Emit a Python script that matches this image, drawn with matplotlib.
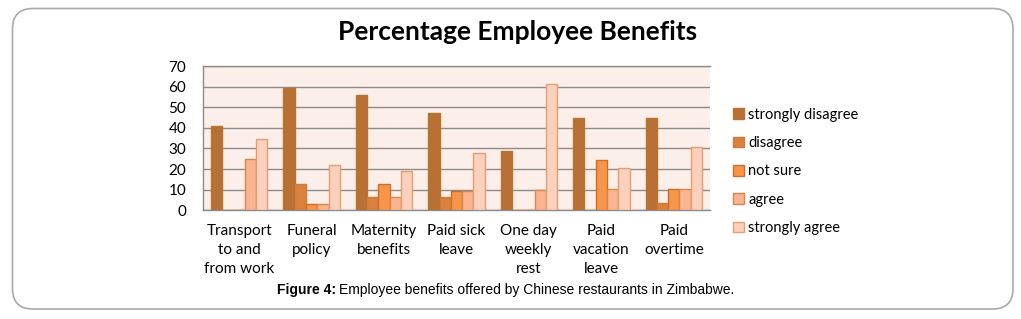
import matplotlib
matplotlib.use("Agg")
import matplotlib.pyplot as plt
import numpy as np
from matplotlib.patches import FancyBboxPatch, Patch

categories = ["Transport\nto and\nfrom work", "Funeral\npolicy", "Maternity\nbenefits",
              "Paid sick\nleave", "One day\nweekly\nrest", "Paid\nvacation\nleave", "Paid\novertime"]
series_names = ["strongly disagree", "disagree", "not sure", "agree", "strongly agree"]
strongly_disagree = [41, 59.5, 56, 47, 29, 45, 45]
disagree = [0, 12.6, 6.5, 6.5, 0, 0, 3.4]
not_sure = [0, 3, 12.6, 9.4, 0, 24.3, 10.3]
agree = [25, 3, 6.5, 9.4, 9.8, 10.4, 10.3]
strongly_agree = [34.6, 22, 19, 27.7, 61.2, 20.5, 30.6]
title = "Percentage Employee Benefits"
yticks = [0, 10, 20, 30, 40, 50, 60, 70]

values = [strongly_disagree, disagree, not_sure, agree, strongly_agree]
fills = ["#B87034", "#D9813F", "#F7964A", "#F9B592", "#FBD0BC"]
edges = ["#B5742F", "#D07A3A", "#CC6E2A", "#D98648", "#E0A072"]

W, H = 1021, 319
fig = plt.figure(figsize=(W / 100, H / 100), dpi=100)

# outer border
border = FancyBboxPatch((12.5 / W, 1 - 309 / H), (1013 - 12.5) / W, (309 - 8.5) / H,
                        boxstyle="round,pad=0,rounding_size=0.02", transform=fig.transFigure,
                        facecolor="none", edgecolor="#A9A9A9", linewidth=1.2, mutation_aspect=W / H)
fig.patches.append(border)

ax = fig.add_axes([203 / W, 1 - 210.3 / H, (710 - 203) / W, (210.3 - 66) / H])
ax.set_facecolor("#FCEEE9")

n = len(series_names)
bw = 0.156
x = np.arange(len(categories))
for i in range(n):
    offs = (i - (n - 1) / 2) * bw
    ax.bar(x + offs, values[i], width=bw, color=fills[i], edgecolor=edges[i],
           linewidth=1.0, label=series_names[i], zorder=3)

ax.set_xlim(-0.5, len(categories) - 0.5)
ax.set_ylim(0, 70)
ax.set_yticks(yticks)
ax.yaxis.grid(True, color="#8C8C8C", linewidth=1.0, zorder=0)
ax.set_axisbelow(True)
for s in ["right"]:
    ax.spines[s].set_visible(False)
for s in ["left", "bottom", "top"]:
    ax.spines[s].set_color("#8C8C8C")
    ax.spines[s].set_linewidth(1.0)
ax.tick_params(axis="both", length=0)
ax.tick_params(axis="y", pad=12)
ax.tick_params(axis="x", pad=10)
ax.set_xticks(x)
ax.set_xticklabels(categories, fontfamily="Lato", fontsize=11, linespacing=1.45)
for lab in ax.get_yticklabels():
    lab.set_fontfamily("Lato")
    lab.set_fontsize(11)

fig.text(518 / W, 1 - 32 / H, title, ha="center", va="center", fontfamily="Lato",
         fontweight="bold", fontsize=19)

handles = [Patch(facecolor=fills[i], edgecolor=edges[i], label=series_names[i]) for i in range(n)]
fig.legend(handles=handles, loc="upper left", bbox_to_anchor=(727 / W, 1 - 102 / H), frameon=False,
           prop={"family": "Lato", "size": 10.5}, handlelength=0.75, handleheight=0.75,
           handletextpad=0.3, labelspacing=0.98, borderaxespad=0)

# caption
fig.canvas.draw()
r = fig.canvas.get_renderer()
cap_y = 1 - 294 / H
t1 = fig.text(277 / W, cap_y, "Figure 4:", fontfamily="Liberation Sans", fontweight="bold",
              fontsize=10, ha="left", va="baseline")
bb = t1.get_window_extent(renderer=r)
fig.text((bb.x1 + 3) / W, cap_y, "Employee benefits offered by Chinese restaurants in Zimbabwe.",
         fontfamily="Liberation Sans", fontsize=10, ha="left", va="baseline")

fig.savefig("out.png", dpi=100)
